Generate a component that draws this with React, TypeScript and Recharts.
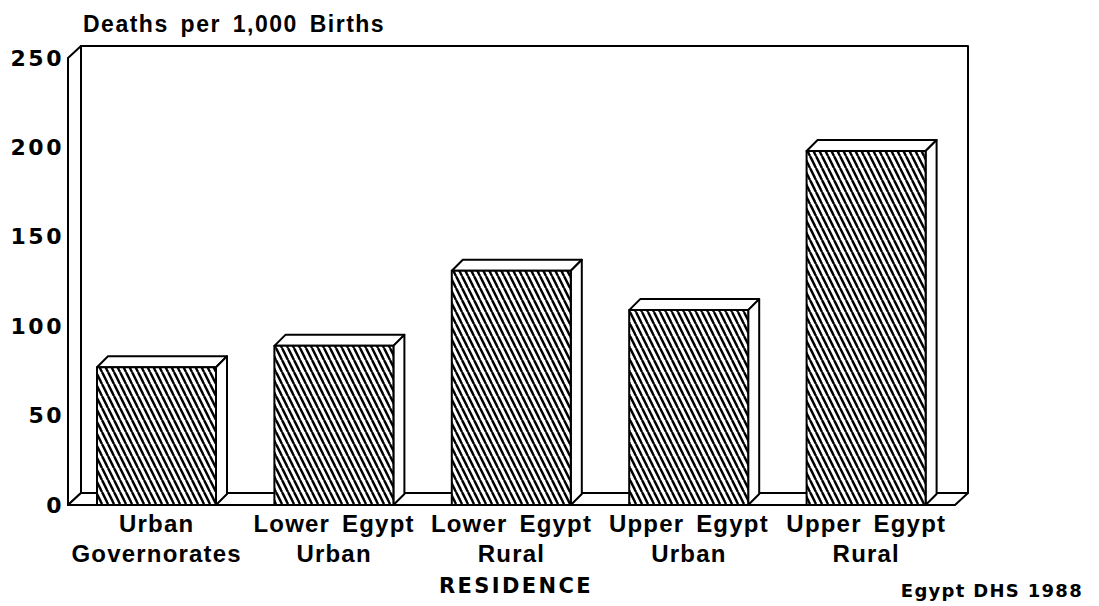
import { BarChart, Bar, XAxis, YAxis, ReferenceArea } from 'recharts';

// Egypt DHS 1988: under-five deaths per 1,000 births by residence
const residenceTop = ['Urban', 'Lower Egypt', 'Lower Egypt', 'Upper Egypt', 'Upper Egypt'];
const residenceBottom = ['Governorates', 'Urban', 'Rural', 'Urban', 'Rural'];
const deathsPer1000 = [77, 89, 131, 109, 198];
const yTicks = [0, 50, 100, 150, 200, 250];

const data = residenceTop.map((top, i) => ({
  residence: `${top} ${residenceBottom[i]}`,
  top,
  bottom: residenceBottom[i],
  deaths: deathsPer1000[i],
}));

const INK = '#000';
const WALL_DX = 13;
const WALL_DY = 12;
const BAR_D = 11;

function BoxFrame(props: any) {
  const { x, y, width, height } = props;
  const l = x;
  const r = x + width;
  const t = y;
  const b = y + height;
  const bl = l + WALL_DX;
  const br = r + WALL_DX;
  const bt = t - WALL_DY;
  const bb = b - WALL_DY;
  return (
    <g stroke={INK} strokeWidth={2} fill="#fff" strokeLinejoin="round">
      <polygon points={`${bl},${bt} ${br},${bt} ${br},${bb} ${bl},${bb}`} />
      <polygon points={`${l},${t} ${bl},${bt} ${bl},${bb} ${l},${b}`} />
      <polygon points={`${l},${b} ${bl},${bb} ${br},${bb} ${r},${b}`} />
    </g>
  );
}

function HatchedBox(props: any) {
  const { x, y, width, height, index } = props;
  const id = `hatch-${index}`;
  const d = BAR_D;
  return (
    <g stroke={INK} strokeWidth={2} strokeLinejoin="round">
      <defs>
        <pattern id={id} patternUnits="userSpaceOnUse" width={6} height={12}>
          <rect width={6} height={12} fill="#fff" stroke="none" />
          <line x1={-6} y1={0} x2={0} y2={12} stroke={INK} strokeWidth={2.4} />
          <line x1={0} y1={0} x2={6} y2={12} stroke={INK} strokeWidth={2.4} />
          <line x1={6} y1={0} x2={12} y2={12} stroke={INK} strokeWidth={2.4} />
        </pattern>
      </defs>
      <polygon
        fill="#fff"
        points={`${x},${y} ${x + d},${y - d} ${x + width + d},${y - d} ${x + width},${y}`}
      />
      <polygon
        fill="#fff"
        points={`${x + width},${y} ${x + width + d},${y - d} ${x + width + d},${y + height - d} ${x + width},${y + height}`}
      />
      <rect x={x} y={y} width={width} height={height} fill={`url(#${id})`} />
    </g>
  );
}

function ResidenceTick(props: any) {
  const { x, y, index } = props;
  const style = {
    fontFamily: '"Liberation Sans", Arial, sans-serif',
    fontWeight: 700,
    fontSize: 24,
    letterSpacing: 1.2,
    wordSpacing: 4,
  };
  return (
    <g>
      <text x={x} y={y + 27} textAnchor="middle" fill={INK} style={style}>
        {residenceTop[index]}
      </text>
      <text x={x} y={y + 57} textAnchor="middle" fill={INK} style={style}>
        {residenceBottom[index]}
      </text>
    </g>
  );
}

function RateTick(props: any) {
  const { y, payload } = props;
  return (
    <text
      x={64}
      y={y}
      textAnchor="end"
      dominantBaseline="central"
      fill={INK}
      style={{ fontFamily: '"DejaVu Sans", sans-serif', fontWeight: 700, fontSize: 22, letterSpacing: 2.5 }}
    >
      {payload.value}
    </text>
  );
}

export default function App() {
  return (
    <div style={{ position: 'absolute', left: 0, top: 0, width: 1099, height: 606, background: '#fff' }}>
      <BarChart
        width={1099}
        height={606}
        data={data}
        margin={{ top: 58, right: 144, bottom: 0, left: 0 }}
        barSize={119}
      >
        <XAxis
          dataKey="residence"
          height={101}
          axisLine={false}
          tickLine={false}
          tickSize={0}
          tickMargin={0}
          interval={0}
          tick={<ResidenceTick />}
        />
        <YAxis
          width={68}
          domain={[0, 250]}
          ticks={yTicks}
          axisLine={false}
          tickLine={false}
          tick={<RateTick />}
        />
        <ReferenceArea y1={0} y2={250} ifOverflow="visible" shape={<BoxFrame />} />
        <Bar dataKey="deaths" isAnimationActive={false} shape={<HatchedBox />} />
      </BarChart>
      <div
        style={{
          position: 'absolute',
          left: 83,
          top: 11,
          fontFamily: '"Liberation Sans", Arial, sans-serif',
          fontWeight: 700,
          fontSize: 23,
          letterSpacing: 1.5,
          wordSpacing: 4,
          whiteSpace: 'nowrap',
          lineHeight: '26px',
        }}
      >
        Deaths per 1,000 Births
      </div>
      <div
        style={{
          position: 'absolute',
          left: 516,
          top: 574,
          transform: 'translateX(-50%)',
          fontFamily: '"DejaVu Sans", sans-serif',
          fontWeight: 700,
          fontSize: 21,
          letterSpacing: 2.4,
          whiteSpace: 'nowrap',
          lineHeight: '24px',
        }}
      >
        RESIDENCE
      </div>
      <div
        style={{
          position: 'absolute',
          right: 16,
          top: 580,
          fontFamily: '"DejaVu Sans", sans-serif',
          fontWeight: 700,
          fontSize: 18,
          letterSpacing: 1.3,
          whiteSpace: 'nowrap',
          lineHeight: '21px',
        }}
      >
        Egypt DHS 1988
      </div>
    </div>
  );
}
